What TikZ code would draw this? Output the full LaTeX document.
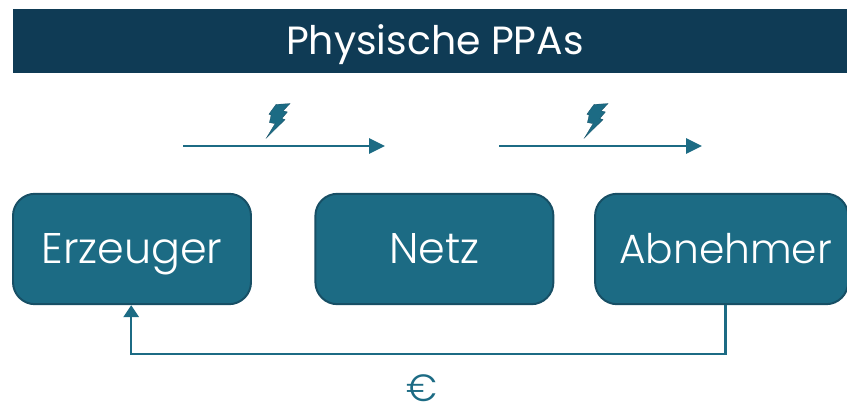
\documentclass[tikz,border=0pt]{standalone}
\usepackage{fontspec}
\setmainfont{Poppins Light}
\newfontfamily\titelfont{Poppins}
\usetikzlibrary{arrows.meta,calc}
\definecolor{bannerblue}{HTML}{0F3B55}
\definecolor{boxteal}{HTML}{1C6B84}
\definecolor{boxedge}{HTML}{174F65}
\tikzset{
  akteur/.style={draw=boxedge,line width=1.4pt,fill=boxteal,text=white,rounded corners=0.55cm,
    minimum height=2.76cm,minimum width=5.95cm,inner sep=0pt,text height=0.9cm,text depth=0.2cm,
    font=\fontsize{30.5}{34}\selectfont},
  fluss/.style={draw=boxteal,line width=1.8pt,-{Triangle[length=0.4cm,width=0.38cm]}},
  blitz/.pic={
    \fill[boxteal,draw=boxedge,line width=0.2pt] (0,0) -- (0.2175,0.36) -- (0.075,0.385) -- (0.1175,0.57) -- (0.0625,0.595)
      -- (0.24,0.84) -- (0.59,0.86) -- (0.42,0.68) -- (0.525,0.65) -- (0.385,0.485) -- (0.465,0.46) -- cycle;
  }
}
\begin{document}
\begin{tikzpicture}
    \useasboundingbox (0cm,0cm) rectangle (21.175cm,10.15cm);
    % banner
    \node[fill=bannerblue,text=white,minimum width=20.85cm,minimum height=1.6cm,inner sep=0pt,
      text height=0.8cm,text depth=0.15cm,font=\titelfont\fontsize{28}{32}\selectfont] (titel) at (10.75cm,9.125cm) {\hspace*{0.25cm}Physische PPAs};
    % boxes
    \node[akteur] (erzeuger) at ( 3.3cm,3.925cm) {Erzeuger};
    \node[akteur] (netz)     at (10.86cm,3.925cm) {Netz};
    \node[akteur,minimum width=6.325cm,font=\fontsize{29}{34}\selectfont] (abnehmer) at (18.04cm,3.925cm) {\hspace*{0.2cm}Abnehmer};
    % power flow
    \coordinate (stromA1) at ( 4.575cm,6.5cm);
    \coordinate (stromA2) at ( 9.625cm,6.5cm);
    \coordinate (stromB1) at (12.475cm,6.5cm);
    \coordinate (stromB2) at (17.55cm,6.5cm);
    \draw[fluss] (stromA1) -- (stromA2);
    \draw[fluss] (stromB1) -- (stromB2);
    \pic at (6.66cm,6.7cm) {blitz};
    \pic at (14.61cm,6.7cm) {blitz};
    % payment
    \coordinate (abfuss) at ($(abnehmer.south)+(0.1cm,0cm)$);
    \coordinate (erzfuss) at ($(erzeuger.south)+(-0.02cm,0cm)$);
    \draw[fluss,-{Triangle[length=0.3cm,width=0.38cm]}] (abfuss) -- ++(0cm,-1.22cm) -| (erzfuss);
    \node[text=boxteal,inner sep=0pt,font=\fontsize{27}{30}\selectfont] (euro) at (10.55cm,0.45cm) {€};
\end{tikzpicture}
\end{document}
